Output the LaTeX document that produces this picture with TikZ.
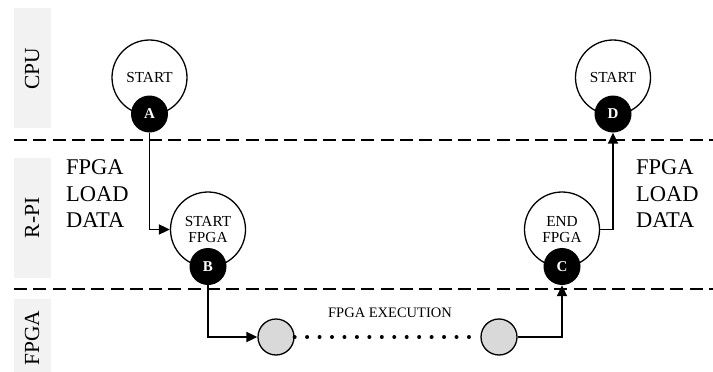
\documentclass[tikz,border=0pt]{standalone}
\usepackage{fontspec}
\setmainfont{Liberation Serif}
\usetikzlibrary{arrows.meta}
\definecolor{lanebg}{HTML}{F2F2F2}
\definecolor{stepgray}{HTML}{D9D9D9}
\tikzset{
  lanebox/.style={fill=lanebg, draw=none},
  lanelabel/.style={rotate=90, font=\fontsize{21.5}{22}\selectfont, inner sep=0pt},
  sep/.style={line width=2.3pt, dash pattern=on 13pt off 6.3pt},
  bigstate/.style={circle, draw, line width=1.3pt, fill=white, minimum size=75pt, inner sep=0pt, align=center, font=\fontsize{15.3}{18}\selectfont},
  marker/.style={circle, fill=black, minimum size=37pt, inner sep=0pt, text=white, font=\fontsize{15}{15}\selectfont\bfseries},
  execstate/.style={circle, draw, line width=1.3pt, fill=stepgray, minimum size=36pt, inner sep=0pt},
  conn/.style={line width=1.8pt, -{Triangle[length=11pt, width=10pt]}},
  sidetext/.style={align=left, font=\fontsize{22.5}{26.5}\selectfont, inner sep=0pt},
  smalltext/.style={font=\fontsize{14.5}{16}\selectfont, inner sep=0pt}
}
\begin{document}
\begin{tikzpicture}[x=1pt, y=-1pt]
\useasboundingbox (0,0) rectangle (713,372);
% lane boxes
\fill[lanebox] (14,8) rectangle (51,128);
\fill[lanebox] (14,158) rectangle (51,278);
\fill[lanebox] (14,299) rectangle (51,372);
\node[lanelabel] (lcpu) at (32,69) {CPU};
\node[lanelabel] (lrpi) at (32,218) {R-PI};
\node[lanelabel] (lfpga) at (32,338) {FPGA};
% separators
\draw[sep] (14,140) -- (713,140);
\draw[sep] (14,289) -- (713,289);
% states
\node[bigstate] (sa) at (149.5,77.5) {START};
\node[marker] (a) at (149.5,114) {A};
\node[bigstate] (sd) at (613,77.5) {START};
\node[marker] (d) at (613,114) {D};
\node[bigstate] (sb) at (208,229.5) {START\\[-2pt]FPGA};
\node[marker] (b) at (208,266.5) {B};
\node[bigstate] (sc) at (562,229.5) {END\\[-2pt]FPGA};
\node[marker] (c) at (562,266.5) {C};
\node[execstate] (g1) at (276,337) {};
\node[execstate] (g2) at (499,337) {};
% texts
\node[sidetext, anchor=west] (tl) at (66,194) {FPGA\\LOAD\\DATA};
\node[sidetext, anchor=west] (tr) at (636,194) {FPGA\\LOAD\\DATA};
\node[smalltext] (ex) at (390,313) {FPGA EXECUTION};
% connectors
\draw[conn] (a.south) |- (sb.west);
\draw[conn] (b.south) |- (g1.west);
\draw[conn] (g2.east) -| (c.south);
\draw[conn] (sc.east) -| (d.south);
\draw[line width=4pt, line cap=round, dash pattern=on 0pt off 12.45pt] (g1.east) -- (g2.west);
\end{tikzpicture}
\end{document}
